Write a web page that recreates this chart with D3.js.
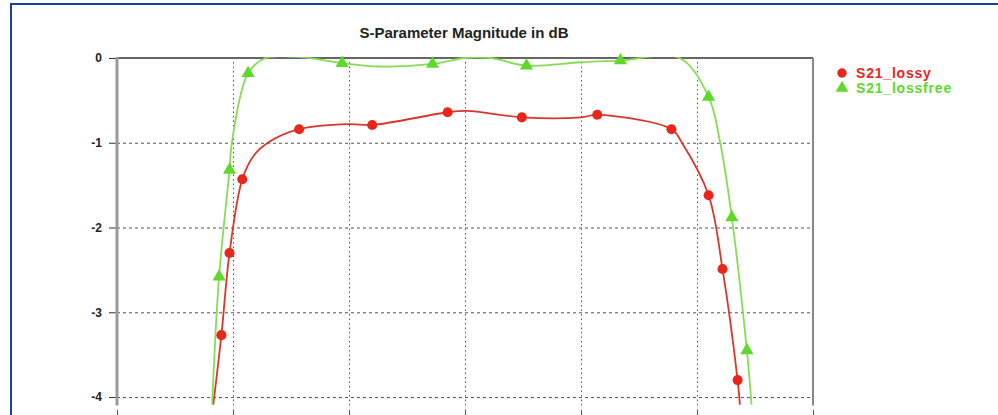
<!DOCTYPE html>
<html>
<head>
<meta charset="utf-8">
<script src="https://cdnjs.cloudflare.com/ajax/libs/d3/7.8.5/d3.min.js"></script>
<style>
  body { margin:0; background:#fff; }
  svg { display:block; font-family:"Liberation Sans", Arial, sans-serif; }
  .grid line { stroke:#555; stroke-width:1; }
  .grid path { display:none; }
  .ylab text { font-size:12px; font-weight:bold; fill:#222; }
</style>
</head>
<body>
<svg id="chart" width="998" height="415"></svg>
<script>
// axis ticks
var xTicks = [0, 1, 2, 3, 4, 5, 6];
var yTicks = [0, -1, -2, -3, -4];

// S21_lossy curve (frequency, dB)
var lossyF  = [0.83, 0.90, 0.97, 1.08, 1.18, 1.30, 1.57, 2.00, 2.20, 2.85, 3.02, 3.49, 4.00, 4.14, 4.78, 4.87, 5.10, 5.22, 5.35, 5.37];
var lossyDb = [-4.09, -3.27, -2.30, -1.43, -1.15, -1.00, -0.84, -0.78, -0.79, -0.64, -0.625, -0.70, -0.70, -0.67, -0.84, -1.00, -1.62, -2.49, -3.80, -4.09];
var lossyMarkF  = [0.90, 0.97, 1.08, 1.57, 2.20, 2.85, 3.49, 4.14, 4.78, 5.10, 5.22, 5.35];
var lossyMarkDb = [-3.27, -2.30, -1.43, -0.84, -0.79, -0.64, -0.70, -0.67, -0.84, -1.62, -2.49, -3.80];

// S21_lossfree curve
var freeF  = [0.82, 0.88, 0.97, 0.99, 1.13, 1.28, 1.58, 1.94, 2.27, 2.72, 3.00, 3.22, 3.53, 4.00, 4.34, 4.85, 5.10, 5.20, 5.30, 5.43, 5.47];
var freeDb = [-4.09, -2.58, -1.32, -1.00, -0.18, 0.0, 0.01, -0.06, -0.10, -0.07, 0.0, 0.0, -0.09, -0.05, -0.03, 0.0, -0.46, -1.00, -1.88, -3.45, -4.09];
var freeMarkF  = [0.88, 0.97, 1.13, 1.94, 2.72, 3.53, 4.34, 5.10, 5.30, 5.43];
var freeMarkDb = [-2.58, -1.32, -0.18, -0.06, -0.07, -0.09, -0.03, -0.46, -1.88, -3.45];

var names = ["S21_lossy", "S21_lossfree"];
var lineColors = ["#d8362c", "#86dc55"];
var markColors = ["#e8261c", "#5fd82c"];

var svg = d3.select("#chart");
var L = 117, R = 813, T = 58, B = 405.5;

var x = d3.scaleLinear().domain([0, 6]).range([L, R]);
var y = d3.scaleLinear().domain([0, -4.1]).range([T, B]);

// outer blue frame
svg.append("rect")
    .attr("x", 11).attr("y", 4)
    .attr("width", 1000).attr("height", 430)
    .attr("fill", "none").attr("stroke", "#1d3fa3").attr("stroke-width", 2);

// title
svg.append("text")
    .attr("x", 464).attr("y", 38)
    .attr("text-anchor", "middle")
    .style("font-size", "15px").style("font-weight", "bold").style("fill", "#222")
    .text("S-Parameter Magnitude in dB");

// horizontal grid
svg.append("g").attr("class", "grid")
    .attr("transform", "translate(" + L + ",0)")
    .call(d3.axisRight(y).tickValues(yTicks.slice(1)).tickSize(R - L).tickFormat(""))
    .selectAll("line").attr("stroke-dasharray", "3,3");

// vertical grid
svg.append("g").attr("class", "grid")
    .attr("transform", "translate(0," + B + ")")
    .call(d3.axisTop(x).tickValues(xTicks.slice(1, 6)).tickSize(B - T).tickFormat(""))
    .selectAll("line").attr("stroke-dasharray", "1.5,3");

// small ticks below the plot
svg.append("g").attr("class", "grid")
    .attr("transform", "translate(0," + (B + 4) + ")")
    .call(d3.axisBottom(x).tickValues(xTicks).tickSize(6).tickFormat(""))
    .selectAll("line").attr("stroke", "#999");

// frame: top and right
svg.append("line").attr("x1", L).attr("x2", R).attr("y1", T).attr("y2", T)
    .attr("stroke", "#666").attr("stroke-width", 2);
svg.append("line").attr("x1", R).attr("x2", R).attr("y1", T).attr("y2", B)
    .attr("stroke", "#888").attr("stroke-width", 2);

// left axis with labels
var yAxis = svg.append("g").attr("class", "ylab")
    .attr("transform", "translate(" + L + ",0)")
    .call(d3.axisLeft(y).tickValues(yTicks).tickSize(8).tickPadding(7)
        .tickFormat(function (d) { return String(d); }));
yAxis.select(".domain").remove();
yAxis.selectAll("line").attr("stroke", "#333");
svg.append("line").attr("x1", L).attr("x2", L).attr("y1", T - 1).attr("y2", B)
    .attr("stroke", "#9a9a9a").attr("stroke-width", 3);

// clip
svg.append("clipPath").attr("id", "plotclip")
    .append("rect").attr("x", L).attr("y", T - 1).attr("width", R - L).attr("height", B - T + 1);

var line = d3.line()
    .x(function (d) { return x(d[0]); })
    .y(function (d) { return y(d[1]); })
    .curve(d3.curveCatmullRom.alpha(0.5));

var series = [
    { curve: d3.zip(lossyF, lossyDb), marks: d3.zip(lossyMarkF, lossyMarkDb), sym: d3.symbolCircle },
    { curve: d3.zip(freeF, freeDb), marks: d3.zip(freeMarkF, freeMarkDb), sym: d3.symbolTriangle }
];

var plot = svg.append("g").attr("clip-path", "url(#plotclip)");

series.forEach(function (s, i) {
    plot.append("path")
        .datum(s.curve)
        .attr("fill", "none")
        .attr("stroke", lineColors[i])
        .attr("stroke-width", 1.8)
        .attr("d", line);
});
series.forEach(function (s, i) {
    svg.selectAll(".m" + i)
        .data(s.marks)
        .enter()
        .append("path")
        .attr("class", "m" + i)
        .attr("transform", function (d) { return "translate(" + x(d[0]) + "," + y(d[1]) + ")"; })
        .attr("d", d3.symbol().type(s.sym).size(i === 0 ? 80 : 75))
        .attr("fill", markColors[i]);
});

// legend
var leg = svg.append("g").attr("transform", "translate(842,73)");
names.forEach(function (n, i) {
    var g = leg.append("g").attr("transform", "translate(0," + (i * 15) + ")");
    g.append("path")
        .attr("d", d3.symbol().type(i === 0 ? d3.symbolCircle : d3.symbolTriangle).size(70))
        .attr("fill", markColors[i]);
    g.append("text")
        .attr("x", 14).attr("y", 5)
        .style("font-size", "14px").style("font-weight", "bold")
        .style("letter-spacing", "0.8px")
        .style("fill", markColors[i])
        .text(n);
});
</script>
</body>
</html>
